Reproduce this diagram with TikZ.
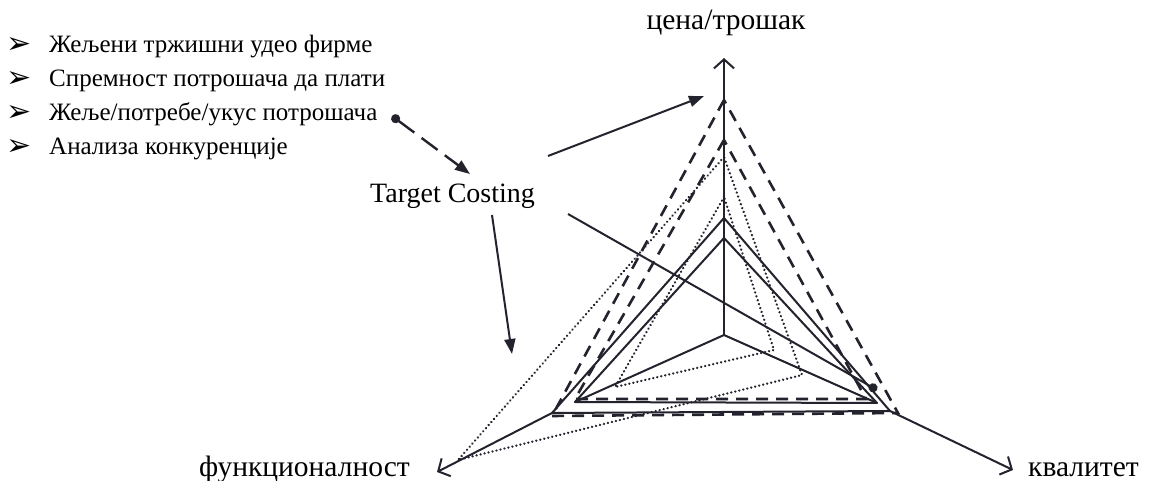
\documentclass[tikz,border=0pt]{standalone}
\usepackage{fontspec}
\setmainfont{Liberation Serif}
\newfontfamily\symfont{DejaVu Sans}
\usetikzlibrary{arrows.meta}
\definecolor{inkc}{RGB}{35,35,45}
\begin{document}
\begin{tikzpicture}[x=1pt,y=-1pt,
  ink/.style={draw=inkc, line width=2pt},
  solidline/.style={ink, line join=round},
  dashline/.style={ink, line width=2.6pt, dash pattern=on 12pt off 8pt},
  dotline/.style={ink, line width=2.5pt, dash pattern=on 0.1pt off 4pt, line cap=round},
  axisline/.style={ink, -{Straight Barb[length=9pt,width=20pt,line width=2pt]}},
  notearrow/.style={ink, -{Triangle[length=15pt,width=11pt]}},
  lbl/.style={inner sep=0pt, text=black, font=\fontsize{29.5}{32}\selectfont},
  item/.style={inner sep=0pt, anchor=base west, text=black, font=\fontsize{25}{28}\selectfont},
  bul/.style={inner sep=0pt, anchor=base west, text=black, font=\symfont\fontsize{30}{32}\selectfont}]
\useasboundingbox (0,0) rectangle (1152,481);
% key points
\coordinate (O) at (724,335);
\coordinate (T) at (724,58);
\coordinate (L) at (437,472);
\coordinate (R) at (1013,470);
\coordinate (Sa1) at (724,218); \coordinate (Sa2) at (552,413); \coordinate (Sa3) at (890,411);
\coordinate (Sb1) at (724,238); \coordinate (Sb2) at (575,402); \coordinate (Sb3) at (877,403);
\coordinate (Da1) at (724,100); \coordinate (Da2) at (552,416); \coordinate (Da3) at (898,413);
\coordinate (Db1) at (724,140); \coordinate (Db2) at (575,399); \coordinate (Db3) at (866,399);
\coordinate (P1) at (724,157); \coordinate (P2) at (458,460); \coordinate (P3) at (802,375);
\coordinate (Q1) at (724,197); \coordinate (Q2) at (615,387); \coordinate (Q3) at (774,350);
% axes
\draw[axisline] (O) -- (T);
\draw[axisline] (Sa2) -- (L);
\draw[axisline] (Sa3) -- (R);
% solid triangles
\draw[solidline] (Sa1) -- (Sa2) -- (Sa3) -- cycle;
\draw[solidline] (Sb1) -- (Sb2) -- (Sb3) -- cycle;
\draw[solidline] (Sb2) -- (O) -- (Sb3);
% dashed triangles
\draw[dashline] (Da1) -- (Da2) -- (Da3) -- cycle;
\draw[dashline] (Db1) -- (Db2) -- (Db3) -- cycle;
% dotted triangles
\draw[dotline] (P1) -- (P2) -- (P3) -- cycle;
\draw[dotline] (Q1) -- (Q2) -- (Q3) -- cycle;
% labels of axes
\node[lbl, anchor=base] (cost) at (726,30) {цена/трошак};
\node[lbl, anchor=base west] (qual) at (1028,476) {квалитет};
\node[lbl, anchor=base east] (func) at (410,476) {функционалност};
% list
\node[bul] (b1) at (6,54) {➢};
\node[item] (i1) at (49,53) {Жељени тржишни удео фирме};
\node[bul] (b2) at (6,88) {➢};
\node[item] (i2) at (49,87) {Спремност потрошача да плати};
\node[bul] (b3) at (6,122) {➢};
\node[item] (i3) at (49,121) {Жеље/потребе/укус потрошача};
\node[bul] (b4) at (6,156) {➢};
\node[item] (i4) at (49,155) {Анализа конкуренције};
% target costing
\node[lbl, anchor=base west, font=\fontsize{28}{30}\selectfont] (tc) at (370,203) {Target Costing};
\coordinate (dotA) at (392,116);
\coordinate (tipA) at (470,174);
\draw[ink, line width=2.4pt, dash pattern=on 20pt off 9pt, {Circle[length=9pt]}-{Triangle[length=15pt,width=11pt]}] (dotA) -- (tipA);
\coordinate (up0) at (548,156); \coordinate (up1) at (704,96);
\draw[notearrow] (up0) -- (up1);
\coordinate (dn0) at (492,215); \coordinate (dn1) at (512,354);
\draw[notearrow] (dn0) -- (dn1);
\coordinate (qa0) at (568,214); \coordinate (qa1) at (877,390);
\draw[ink, -{Circle[length=9pt]}] (qa0) -- (qa1);
\end{tikzpicture}
\end{document}
